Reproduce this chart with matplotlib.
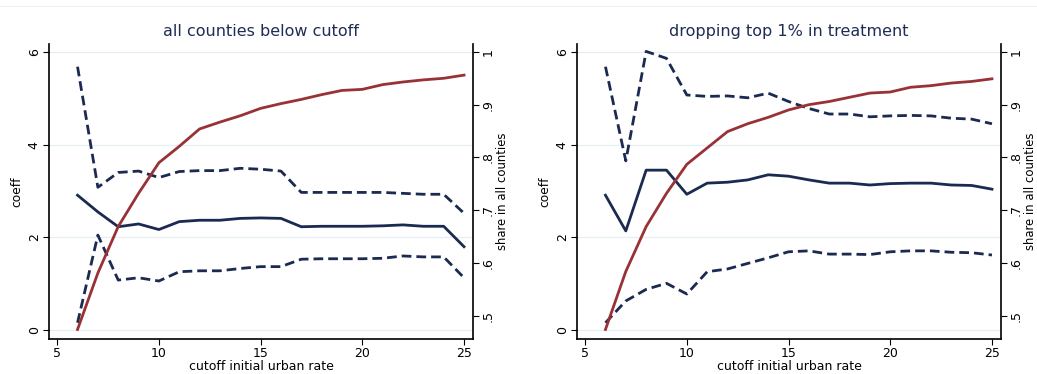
import numpy as np
import matplotlib
matplotlib.use('Agg')
import matplotlib.pyplot as plt

cutoff = list(range(6, 26))

# panel A: all counties below cutoff
coef_a = [2.91, 2.55, 2.23, 2.29, 2.17, 2.34, 2.37, 2.37, 2.41, 2.42,
          2.41, 2.23, 2.24, 2.24, 2.24, 2.25, 2.27, 2.24, 2.24, 1.80]
hi_a = [5.68, 3.08, 3.40, 3.43, 3.29, 3.42, 3.44, 3.44, 3.49, 3.47,
        3.43, 2.97, 2.97, 2.97, 2.97, 2.97, 2.95, 2.93, 2.93, 2.52]
lo_a = [0.16, 2.05, 1.08, 1.13, 1.06, 1.26, 1.28, 1.28, 1.33, 1.37,
        1.37, 1.53, 1.54, 1.54, 1.54, 1.55, 1.60, 1.58, 1.58, 1.13]
share_a = [0.474, 0.581, 0.669, 0.732, 0.790, 0.821, 0.854, 0.867, 0.879, 0.893,
           0.902, 0.910, 0.919, 0.927, 0.929, 0.938, 0.943, 0.947, 0.950, 0.956]

# panel B: dropping top 1% in treatment
coef_b = [2.91, 2.14, 3.45, 3.45, 2.93, 3.17, 3.19, 3.24, 3.35, 3.32,
          3.24, 3.17, 3.17, 3.13, 3.16, 3.17, 3.17, 3.13, 3.12, 3.04]
hi_b = [5.68, 3.65, 6.01, 5.86, 5.07, 5.04, 5.05, 5.01, 5.11, 4.93,
        4.78, 4.66, 4.66, 4.60, 4.62, 4.63, 4.62, 4.57, 4.55, 4.45]
lo_b = [0.16, 0.63, 0.88, 1.01, 0.78, 1.26, 1.32, 1.44, 1.56, 1.69,
        1.71, 1.64, 1.64, 1.63, 1.69, 1.71, 1.71, 1.68, 1.67, 1.62]
share_b = [0.474, 0.584, 0.669, 0.732, 0.787, 0.818, 0.849, 0.864, 0.876, 0.890,
           0.900, 0.906, 0.914, 0.922, 0.924, 0.933, 0.936, 0.941, 0.944, 0.949]

titles = ['all counties below cutoff', 'dropping top 1% in treatment']

navy = '#1b2a50'
maroon = '#983236'
grid_c = '#e6eff1'

fig = plt.figure(figsize=(10.37, 3.74), dpi=100, facecolor='white')
fig.add_artist(plt.Line2D([0, 1], [0.984, 0.984], color='#f0f0f0', lw=0.8))

panels = [(coef_a, hi_a, lo_a, share_a), (coef_b, hi_b, lo_b, share_b)]
lefts = [0.0473, 0.5564]

for i, (coef, hi, lo, share) in enumerate(panels):
    ax = fig.add_axes([lefts[i], 0.0936, 0.4088, 0.7888])
    ax.set_xlim(4.6, 25.44)
    ax.set_ylim(-0.19, 6.17)
    ax.set_yticks([0, 2, 4, 6])
    ax.set_xticks([5, 10, 15, 20, 25])
    for yv in [0, 2, 4, 6]:
        ax.axhline(yv, color=grid_c, lw=0.9, zorder=0)
    ax.plot(cutoff, coef, color=navy, lw=2.0, zorder=3)
    ax.plot(cutoff, hi, color=navy, lw=2.0, dashes=(3.5, 1.8), zorder=3)
    ax.plot(cutoff, lo, color=navy, lw=2.0, dashes=(3.5, 1.8), zorder=3)
    ax.spines['top'].set_visible(False)
    ax.spines['right'].set_visible(False)
    for s in ['left', 'bottom']:
        ax.spines[s].set_linewidth(1.2)
    ax.tick_params(direction='out', length=4, width=0.8, labelsize=9, pad=2)
    plt.setp(ax.get_yticklabels(), rotation=90, va='center')
    ax.set_ylabel('coeff', fontsize=8.8, labelpad=3)
    ax.set_xlabel('cutoff initial urban rate', fontsize=9, labelpad=0)
    ax.set_title(titles[i], fontsize=11.5, color='#1e2d55', pad=6)

    ax2 = ax.twinx()
    ax2.set_ylim(0.456, 1.015)
    ax2.set_yticks([0.5, 0.6, 0.7, 0.8, 0.9, 1.0])
    ax2.set_yticklabels(['.5', '.6', '.7', '.8', '.9', '1'])
    ax2.plot(cutoff, share, color=maroon, lw=2.0, zorder=4)
    ax2.spines['top'].set_visible(False)
    ax2.spines['left'].set_visible(False)
    ax2.spines['bottom'].set_visible(False)
    ax2.spines['right'].set_linewidth(1.2)
    ax2.tick_params(direction='out', length=4, width=0.8, labelsize=9, pad=2)
    plt.setp(ax2.get_yticklabels(), rotation=90, va='center')
    ax2.set_ylabel('share in all counties', fontsize=8.4, labelpad=1)

plt.savefig('out.png', dpi=100)
